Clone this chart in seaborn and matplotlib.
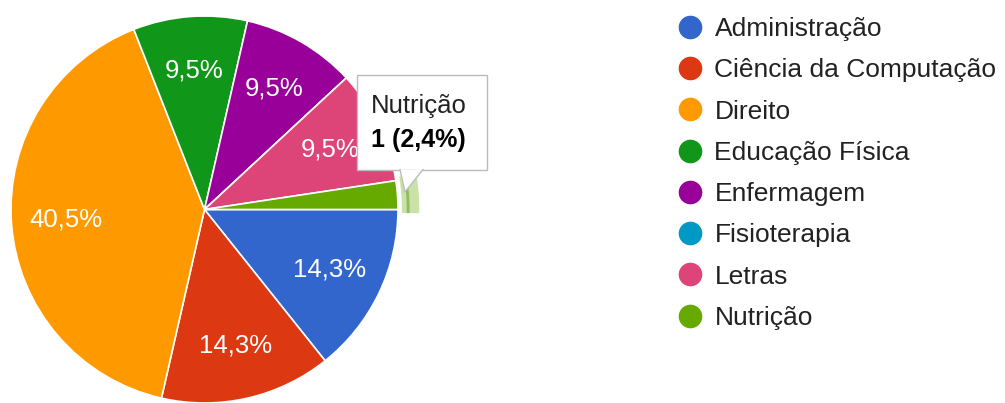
import matplotlib
matplotlib.use("Agg")
import matplotlib.pyplot as plt
import seaborn as sns
from matplotlib.lines import Line2D
from matplotlib.patches import Wedge, Rectangle, Polygon

# ---- data ----
cursos = ["Administração", "Ciência da Computação", "Direito", "Educação Física",
          "Enfermagem", "Fisioterapia", "Letras", "Nutrição"]
contagens = [6, 6, 17, 4, 4, 0, 4, 1]
cores = ["#3366CC", "#DC3912", "#FF9900", "#109618",
         "#990099", "#0099C6", "#DD4477", "#66AA00"]
destaque = "Nutrição"

sns.set_theme(style="white")
plt.rcParams["font.family"] = ["Liberation Sans", "DejaVu Sans"]

W, H = 1005, 403
fig = plt.figure(figsize=(W / 100, H / 100), dpi=100)

cx, cy, r = 204.5, 209.5, 193.5
ax = fig.add_axes([(cx - r) / W, 1 - (cy + r) / H, 2 * r / W, 2 * r / H])

palette = sns.color_palette(cores)
total = sum(contagens)

def fmt(p):
    return (f"{p:.1f}%".replace(".", ",")) if p >= 5 else ""

wedges, _, autotexts = ax.pie(
    contagens, colors=palette, startangle=0, counterclock=False,
    autopct=fmt, pctdistance=0.72, radius=1,
    wedgeprops=dict(edgecolor="white", linewidth=1.2),
    textprops=dict(color="white", fontsize=18.5),
)
ax.set_xlim(-1, 1)
ax.set_ylim(-1, 1)
ax.set_aspect("equal")
ax.axis("off")

# highlight ring on the selected slice
i = cursos.index(destaque)
w = wedges[i]
ax.add_patch(Wedge((0, 0), 1.11, w.theta1 - 1, w.theta2 + 1, width=0.09,
                   facecolor="#c9e2a6", edgecolor="none", clip_on=False))
ax.add_patch(Wedge((0, 0), 1.06, w.theta1 - 1, w.theta2 + 1, width=0.015,
                   facecolor="#7faa4a", edgecolor="none", clip_on=False, alpha=0.7))

# tooltip
def fx(x):
    return x / W

def fy(y):
    return 1 - y / H

bx0, by0, bx1, by1 = 357, 75, 487, 170
fig.patches.append(Rectangle((fx(bx0), fy(by1)), fx(bx1) - fx(bx0), fy(by0) - fy(by1),
                             transform=fig.transFigure, facecolor="white",
                             edgecolor="#bbbbbb", linewidth=1.0, zorder=5))
tri = [(fx(400), fy(by1)), (fx(423), fy(by1)), (fx(405), fy(192))]
fig.patches.append(Polygon(tri, closed=True, transform=fig.transFigure,
                           facecolor="white", edgecolor="none", zorder=6))
fig.lines.append(Line2D([fx(400), fx(405), fx(423)], [fy(by1 - 0.5), fy(192), fy(by1 - 0.5)],
                        transform=fig.transFigure, color="#bbbbbb", linewidth=1.0, zorder=7))
pct = contagens[i] / total * 100
fig.text(fx(371), fy(106), destaque, fontsize=18.5, color="#222222",
         va="center", ha="left", zorder=8)
fig.text(fx(371), fy(140), f"{contagens[i]} ({pct:.1f}%)".replace(".", ","),
         fontsize=18, color="#000000", fontweight="bold",
         va="center", ha="left", zorder=8)

# legend
handles = [Line2D([0], [0], marker="o", linestyle="none", markersize=16,
                  markerfacecolor=c, markeredgecolor=c) for c in palette]
fig.legend(handles, cursos, loc="upper left",
           bbox_to_anchor=(fx(677), fy(17)), frameon=False,
           fontsize=19, labelspacing=0.655, handletextpad=0.42,
           handlelength=1.0, borderaxespad=0, borderpad=0,
           labelcolor="#222222")

fig.savefig("out.png", dpi=100, facecolor="white")
